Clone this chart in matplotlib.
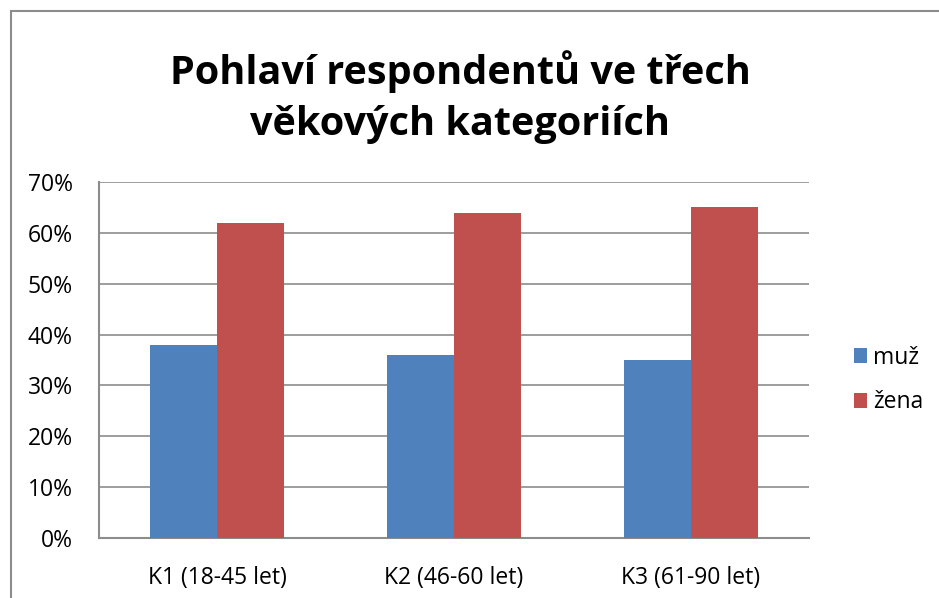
import matplotlib
matplotlib.use("Agg")
import matplotlib.pyplot as plt
import numpy as np
from matplotlib.patches import Rectangle

categories = ["K1 (18-45 let)", "K2 (46-60 let)", "K3 (61-90 let)"]
series_names = ["muž", "žena"]
muz = [38, 36, 35]
zena = [62, 64, 65]
yticks = [0, 10, 20, 30, 40, 50, 60, 70]
title = "Pohlaví respondentů ve třech\nvěkových kategoriích"

plt.rcParams['font.family'] = ['Open Sans', 'DejaVu Sans']

W, H = 939, 598
fig = plt.figure(figsize=(W/100, H/100), dpi=100)
fig.patch.set_facecolor('white')

# outer frame
fig.add_artist(Rectangle((11/W, -0.01), 1.02, 1 - 11/H + 0.01, transform=fig.transFigure,
                         fill=False, edgecolor='#8c8c8c', linewidth=1.5))

left, right, top, bottom = 99, 809, 182, 538
ax = fig.add_axes([left/W, 1 - bottom/H, (right-left)/W, (bottom-top)/H])

x = np.arange(len(categories))
bw = 0.283
ax.bar(x - bw/2, muz, bw, color='#4F81BD', label=series_names[0], zorder=3)
ax.bar(x + bw/2, zena, bw, color='#C0504D', label=series_names[1], zorder=3)

ax.set_xlim(-0.5, len(categories) - 0.5)
ax.set_ylim(0, 70)
ax.set_yticks(yticks)
ax.set_yticklabels([f"{v}%" for v in yticks], fontsize=16.5)
ax.set_xticks(x)
ax.set_xticklabels(categories, fontsize=16.5)
ax.tick_params(axis='y', length=0, pad=19)
ax.tick_params(axis='x', length=0, pad=20)
ax.grid(axis='y', color='#8c8c8c', linewidth=1.2, zorder=0)
for s in ['top', 'right']:
    ax.spines[s].set_visible(False)
for s in ['left', 'bottom']:
    ax.spines[s].set_color('#8c8c8c')
    ax.spines[s].set_linewidth(1.5)

fig.text(460/W, 1 - 97/H, title, ha='center', va='center', fontsize=28.5,
         fontweight='bold', linespacing=1.4)

leg = ax.legend(loc='center left', frameon=False,
                fontsize=16.5, handlelength=0.6, handleheight=0.6, handletextpad=0.25,
                labelspacing=0.9)
leg.set_bbox_to_anchor((833/W, 1 - 380/H), transform=fig.transFigure)

fig.savefig("out.png", dpi=100)
